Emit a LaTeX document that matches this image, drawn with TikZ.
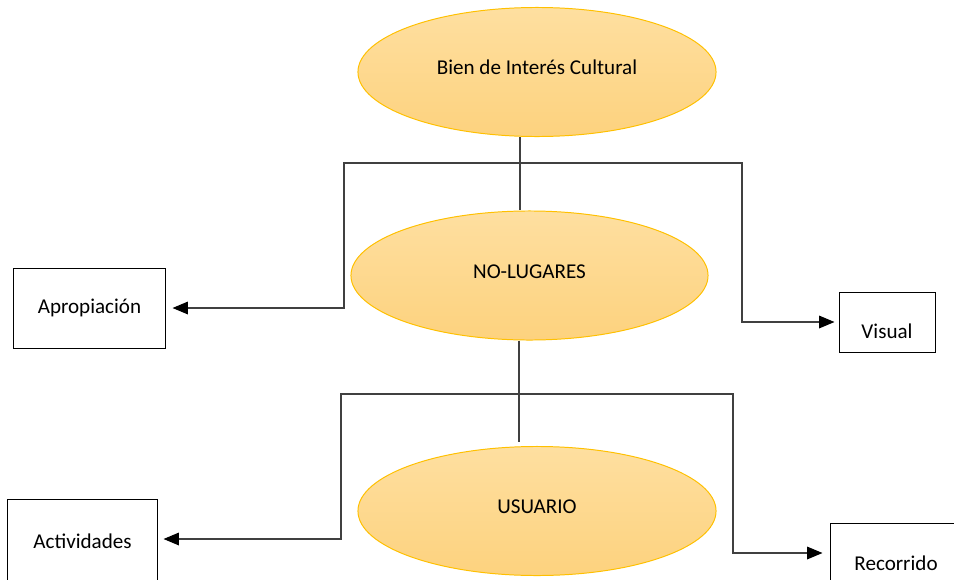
\documentclass[tikz,border=0pt]{standalone}
\usepackage{fontspec}
\setmainfont{Carlito}
\usepackage{tikz}
\usetikzlibrary{positioning, arrows.meta, shapes.geometric}
\definecolor{elipsearriba}{HTML}{FEDFA0}
\definecolor{elipseabajo}{HTML}{FDD27E}
\definecolor{elipseborde}{HTML}{FFC000}
\definecolor{linea}{HTML}{404040}

\begin{document}
\begin{tikzpicture}[x=0.025cm, y=-0.025cm,
    >={Triangle[length=11pt, width=9pt, color=black]},
    conector/.style={draw=linea, line width=0.9pt},
    elipse/.style={ellipse,
        draw=elipseborde,
        line width=0.7pt,
        top color=elipsearriba,
        bottom color=elipseabajo,
        minimum width=8.95cm,
        minimum height=3.225cm,
        text height=11pt,
        text depth=7pt,
        font=\fontsize{15}{18}\selectfont
    },
    caja/.style={draw,
        line width=0.7pt,
        minimum height=2cm,
        font=\fontsize{15}{18}\selectfont
    }]
    \useasboundingbox (0,0) rectangle (954,579);
    \clip (0,0) rectangle (954,579);

    \node [elipse] (bic) at (537,72) {Bien de Interés Cultural};
    \node [elipse, minimum width=8.925cm] (nolugares) at (529.5,275.5) {NO-LUGARES};
    \node [elipse] (usuario) at (537,511) {USUARIO};

    \node [caja, minimum width=3.775cm] (apropiacion) at (89.5,308) {Apropiación};
    \node [caja,
        minimum width=2.4cm,
        minimum height=1.5cm,
        text height=23pt
    ] (visual) at (887,322) {Visual};
    \node [caja, minimum width=3.725cm, minimum height=2.1cm] (actividades) at (82.5,541) {Actividades};
    \node [caja, minimum width=3.3cm] (recorrido) at (896,563) {Recorrido};

    % puntos de quiebre
    \coordinate (j1) at (520,163);
    \coordinate (a1) at (344,308);
    \coordinate (v1) at (742,322);
    \coordinate (j2) at (519,394);
    \coordinate (c1) at (341,539);
    \coordinate (r1) at (733,553);

    % lineas
    \draw[conector] (bic.south -| j1) -- (nolugares.north -| j1);
    \draw[conector, ->, shorten >=0.175cm] (j1) -| (a1) -- (apropiacion.east);
    \draw[conector, ->, shorten >=0.1cm] (j1) -| (v1) -- (v1 -| visual.west);
    \draw[conector, shorten >=0.1cm] (nolugares.south -| j2) -- (usuario.north -| j2);
    \draw[conector, ->, shorten >=0.15cm] (j2) -| (c1) -- (c1 -| actividades.east);
    \draw[conector, ->, shorten >=0.175cm] (j2) -| (r1) -- (r1 -| recorrido.west);
\end{tikzpicture}
\end{document}
